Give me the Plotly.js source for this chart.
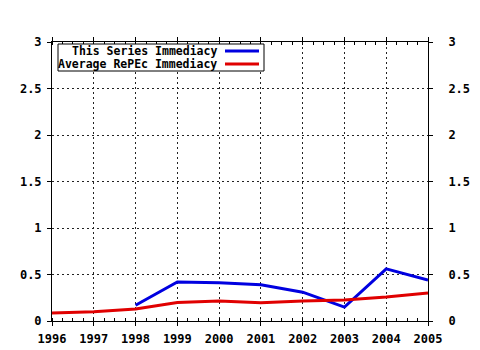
<!DOCTYPE html>
<html><head><meta charset="utf-8">
<script src="https://cdn.plot.ly/plotly-3.0.1.min.js"></script>
<style>html,body{margin:0;padding:0;background:#fff}#c{width:480px;height:350px}</style>
</head><body><div id="c"></div>
<script>
var years = [1996,1997,1998,1999,2000,2001,2002,2003,2004,2005];
var seriesYears = [1998,1999,2000,2001,2002,2003,2004,2005];
var seriesImmediacy = [0.17,0.42,0.41,0.39,0.31,0.15,0.56,0.44];
var repecImmediacy = [0.086,0.10,0.13,0.20,0.215,0.197,0.215,0.226,0.258,0.30];
var seriesNames = ['This Series Immediacy','Average RePEc Immediacy'];
var seriesColors = ['#0000e0','#e00000'];
var yTicks = [0,0.5,1,1.5,2,2.5,3];
var yTickText = ['0','0.5','1','1.5','2','2.5','3'];

var font = {family:'DejaVu Sans Mono', size:12, color:'#000', weight:'bold'};
var traces = [
  {x:seriesYears, y:seriesImmediacy, mode:'lines', name:seriesNames[0], line:{color:seriesColors[0], width:3}, showlegend:false},
  {x:years, y:repecImmediacy, mode:'lines', name:seriesNames[1], line:{color:seriesColors[1], width:3}, showlegend:false},
  {x:[years[0]], y:[0], yaxis:'y2', mode:'markers', marker:{opacity:0}, showlegend:false, hoverinfo:'skip'}
];
var axCommon = {range:[0,3], tickvals:yTicks, ticktext:yTickText, ticks:'outside', ticklen:4, tickcolor:'#000', linecolor:'#000', linewidth:1, showline:true, tickfont:font, zeroline:false};
var layout = {
  width:480, height:350,
  margin:{l:52, r:52, t:42, b:29},
  paper_bgcolor:'#fff', plot_bgcolor:'#fff',
  showlegend:false,
  xaxis:{range:[1996,2005], dtick:1, tick0:1996, ticks:'outside', ticklen:4, tickcolor:'#000', showline:true, linecolor:'#000', linewidth:1, mirror:'ticks',
    showgrid:true, gridcolor:'#222', griddash:'2px,3px', gridwidth:1, tickfont:font, zeroline:false, ticklabelstandoff:3,
    minor:{dtick:0.25, ticks:'inside', ticklen:3, tickcolor:'#000', showgrid:false}},
  yaxis:Object.assign({}, axCommon, {showgrid:true, gridcolor:'#222', griddash:'2px,3px', gridwidth:1, ticklabelstandoff:3}),
  yaxis2:Object.assign({}, axCommon, {overlaying:'y', side:'right', showgrid:false, ticklabelstandoff:13}),
  shapes:[
    {type:'rect', xref:'paper', yref:'paper', x0:(58-52)/376, x1:(264-52)/376, y0:(321-71)/279, y1:(321-44)/279, line:{color:'#000', width:1}, fillcolor:'#fff', layer:'above'},
    {type:'line', xref:'paper', yref:'paper', x0:(225-52)/376, x1:(259-52)/376, y0:(321-51)/279, y1:(321-51)/279, line:{color:seriesColors[0], width:3}},
    {type:'line', xref:'paper', yref:'paper', x0:(225-52)/376, x1:(259-52)/376, y0:(321-64)/279, y1:(321-64)/279, line:{color:seriesColors[1], width:3}}
  ],
  annotations:[
    {xref:'paper', yref:'paper', x:(219-52)/376, y:(321-51)/279, xanchor:'right', yanchor:'middle', text:seriesNames[0], showarrow:false, font:{family:'DejaVu Sans Mono', size:11.5, color:'#000', weight:'bold'}},
    {xref:'paper', yref:'paper', x:(219-52)/376, y:(321-64)/279, xanchor:'right', yanchor:'middle', text:seriesNames[1], showarrow:false, font:{family:'DejaVu Sans Mono', size:11.5, color:'#000', weight:'bold'}}
  ]
};
Plotly.newPlot('c', traces, layout, {staticPlot:true, displayModeBar:false});
</script></body></html>
